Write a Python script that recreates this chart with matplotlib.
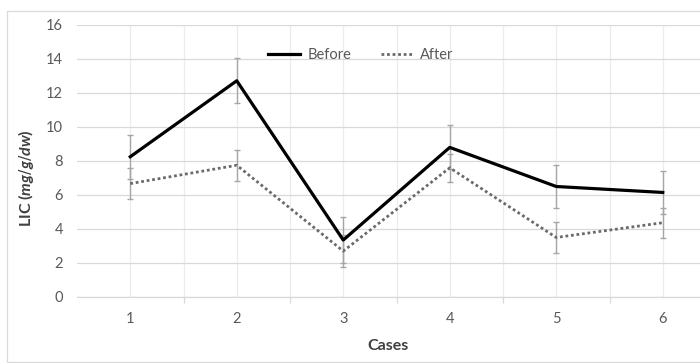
import matplotlib.pyplot as plt
from matplotlib.patches import Rectangle

plt.rcParams['font.family'] = ['Lato', 'DejaVu Sans']
plt.rcParams['mathtext.fontset'] = 'custom'
plt.rcParams['mathtext.it'] = 'Lato:italic:bold'

# data
cases = [1, 2, 3, 4, 5, 6]
before = [8.25, 12.72, 3.35, 8.8, 6.5, 6.15]
before_err = [1.3, 1.32, 1.35, 1.3, 1.27, 1.28]
after = [6.67, 7.75, 2.7, 7.6, 3.5, 4.37]
after_err = [0.9, 0.9, 0.92, 0.82, 0.92, 0.87]
y_ticks = [0, 2, 4, 6, 8, 10, 12, 14, 16]

fig = plt.figure(figsize=(7, 3.63), dpi=100)
# plot area runs a little past the right edge, as in the cropped original
ax = fig.add_axes([77 / 700, 66 / 363, 639 / 700, 272 / 363])

grid_c = '#d9d9d9'
ax.set_xlim(0.5, 6.5)
ax.set_ylim(0, 16)
ax.set_yticks(y_ticks)
ax.set_xticks(cases)
ax.set_xticks([c + 0.5 for c in cases[:-1]], minor=True)
ax.grid(axis='y', color=grid_c, lw=0.9)
ax.grid(axis='x', which='both', color='#ececec', lw=0.9)
ax.set_axisbelow(True)
for s in ['top', 'right', 'left']:
    ax.spines[s].set_visible(False)
ax.spines['bottom'].set_color(grid_c)
ax.spines['bottom'].set_linewidth(0.9)
ax.tick_params(axis='y', length=0, labelsize=10.5, labelcolor='#595959', pad=10)
ax.tick_params(axis='x', which='major', length=0, labelsize=10.5,
               labelcolor='#595959', pad=11)
ax.tick_params(axis='x', which='minor', length=4, color=grid_c, width=0.9)

err_c = '#a6a6a6'
ax.errorbar(cases, before, yerr=before_err, fmt='none', ecolor=err_c,
            elinewidth=1, capsize=2.3, capthick=1, zorder=2)
ax.errorbar(cases, after, yerr=after_err, fmt='none', ecolor=err_c,
            elinewidth=1, capsize=2.3, capthick=1, zorder=2)
ax.plot(cases, after, color='#6a6a6a', lw=2, ls=(0, (1, 1)),
        label='After', zorder=3)
ax.plot(cases, before, color='black', lw=2.3, label='Before', zorder=4)

handles, labels = ax.get_legend_handles_labels()
ax.legend(handles[::-1], labels[::-1], loc='upper center',
          bbox_to_anchor=(0.444, 0.965), ncol=2, frameon=False,
          fontsize=10.5, labelcolor='#595959', handlelength=2.2,
          handletextpad=0.5, columnspacing=2.0)

fig.text(388 / 700, 1 - 346 / 363, 'Cases', ha='center', va='center',
         fontsize=11.5, fontweight='bold', color='#404040')
fig.text(26 / 700, 1 - 178 / 363, r'LIC ($\mathit{mg/g/dw}$)', ha='center',
         va='center', rotation=90, fontsize=11.5, fontweight='bold',
         color='#404040')

fig.patches.append(Rectangle((7 / 700, 1 / 363), 1.2, 351 / 363,
                             transform=fig.transFigure, fill=False,
                             edgecolor=grid_c, lw=0.9))

fig.savefig('out.png', dpi=100)
